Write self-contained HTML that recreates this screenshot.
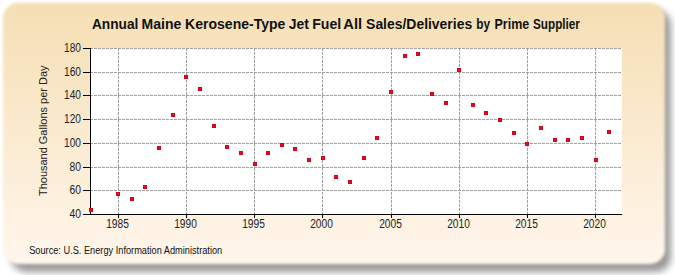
<!DOCTYPE html>
<html><head><meta charset="utf-8"><style>
html,body{margin:0;padding:0;width:675px;height:275px;overflow:hidden;background:#fff}
.shadow{position:absolute;left:11px;top:10px;width:660px;height:262px;border-radius:15px;background:rgba(0,0,0,0.4);filter:blur(3.5px)}
.panel{position:absolute;left:3px;top:3px;width:662px;height:261px;border-radius:15px;filter:blur(1.5px);
background:linear-gradient(to bottom,#f5deb3 0%,#fff6ec 100%)}
svg{position:absolute;left:0;top:0}
.t{font-family:"Liberation Sans",sans-serif;font-size:12px;fill:#222}
.title{font-family:"Liberation Sans",sans-serif;font-size:14px;font-weight:bold;fill:#111}
.src{font-family:"Liberation Sans",sans-serif;font-size:10px;fill:#111}
.yl{font-family:"Liberation Sans",sans-serif;font-size:11px;fill:#222}
</style></head><body>
<div class="shadow"></div><div class="panel"></div>
<svg width="675" height="275" viewBox="0 0 675 275">
<defs><radialGradient id="mg" cx="50%" cy="50%" r="70%"><stop offset="0" stop-color="#f2102a"/><stop offset="1" stop-color="#b8000f"/></radialGradient></defs>
<rect x="90" y="48" width="532" height="166" fill="#fff"/>
<line x1="90" y1="48.5" x2="622" y2="48.5" stroke="#a0a0a0" stroke-dasharray="3,1"/>
<line x1="83" y1="48.5" x2="90" y2="48.5" stroke="#000"/>
<text x="64.1" y="52.0" textLength="16.9" lengthAdjust="spacingAndGlyphs" class="t">180</text>
<line x1="90" y1="72.5" x2="622" y2="72.5" stroke="#a0a0a0" stroke-dasharray="3,1"/>
<line x1="83" y1="72.5" x2="90" y2="72.5" stroke="#000"/>
<text x="64.1" y="76.0" textLength="16.9" lengthAdjust="spacingAndGlyphs" class="t">160</text>
<line x1="90" y1="95.5" x2="622" y2="95.5" stroke="#a0a0a0" stroke-dasharray="3,1"/>
<line x1="83" y1="95.5" x2="90" y2="95.5" stroke="#000"/>
<text x="64.1" y="99.0" textLength="16.9" lengthAdjust="spacingAndGlyphs" class="t">140</text>
<line x1="90" y1="119.5" x2="622" y2="119.5" stroke="#a0a0a0" stroke-dasharray="3,1"/>
<line x1="83" y1="119.5" x2="90" y2="119.5" stroke="#000"/>
<text x="64.1" y="123.0" textLength="16.9" lengthAdjust="spacingAndGlyphs" class="t">120</text>
<line x1="90" y1="143.5" x2="622" y2="143.5" stroke="#a0a0a0" stroke-dasharray="3,1"/>
<line x1="83" y1="143.5" x2="90" y2="143.5" stroke="#000"/>
<text x="64.1" y="147.0" textLength="16.9" lengthAdjust="spacingAndGlyphs" class="t">100</text>
<line x1="90" y1="167.5" x2="622" y2="167.5" stroke="#a0a0a0" stroke-dasharray="3,1"/>
<line x1="83" y1="167.5" x2="90" y2="167.5" stroke="#000"/>
<text x="69.5" y="171.0" textLength="11.5" lengthAdjust="spacingAndGlyphs" class="t">80</text>
<line x1="90" y1="190.5" x2="622" y2="190.5" stroke="#a0a0a0" stroke-dasharray="3,1"/>
<line x1="83" y1="190.5" x2="90" y2="190.5" stroke="#000"/>
<text x="69.5" y="194.0" textLength="11.5" lengthAdjust="spacingAndGlyphs" class="t">60</text>
<line x1="83" y1="214.5" x2="90" y2="214.5" stroke="#000"/>
<text x="69.5" y="218.0" textLength="11.5" lengthAdjust="spacingAndGlyphs" class="t">40</text>
<line x1="118.5" y1="48" x2="118.5" y2="214" stroke="#a0a0a0" stroke-dasharray="3,1"/>
<line x1="118.5" y1="214" x2="118.5" y2="218" stroke="#000"/>
<text x="106.2" y="228" textLength="22.7" lengthAdjust="spacingAndGlyphs" class="t">1985</text>
<line x1="186.5" y1="48" x2="186.5" y2="214" stroke="#a0a0a0" stroke-dasharray="3,1"/>
<line x1="186.5" y1="214" x2="186.5" y2="218" stroke="#000"/>
<text x="174.2" y="228" textLength="22.7" lengthAdjust="spacingAndGlyphs" class="t">1990</text>
<line x1="254.5" y1="48" x2="254.5" y2="214" stroke="#a0a0a0" stroke-dasharray="3,1"/>
<line x1="254.5" y1="214" x2="254.5" y2="218" stroke="#000"/>
<text x="242.2" y="228" textLength="22.7" lengthAdjust="spacingAndGlyphs" class="t">1995</text>
<line x1="322.5" y1="48" x2="322.5" y2="214" stroke="#a0a0a0" stroke-dasharray="3,1"/>
<line x1="322.5" y1="214" x2="322.5" y2="218" stroke="#000"/>
<text x="310.2" y="228" textLength="22.7" lengthAdjust="spacingAndGlyphs" class="t">2000</text>
<line x1="391.5" y1="48" x2="391.5" y2="214" stroke="#a0a0a0" stroke-dasharray="3,1"/>
<line x1="391.5" y1="214" x2="391.5" y2="218" stroke="#000"/>
<text x="379.2" y="228" textLength="22.7" lengthAdjust="spacingAndGlyphs" class="t">2005</text>
<line x1="459.5" y1="48" x2="459.5" y2="214" stroke="#a0a0a0" stroke-dasharray="3,1"/>
<line x1="459.5" y1="214" x2="459.5" y2="218" stroke="#000"/>
<text x="447.2" y="228" textLength="22.7" lengthAdjust="spacingAndGlyphs" class="t">2010</text>
<line x1="527.5" y1="48" x2="527.5" y2="214" stroke="#a0a0a0" stroke-dasharray="3,1"/>
<line x1="527.5" y1="214" x2="527.5" y2="218" stroke="#000"/>
<text x="515.2" y="228" textLength="22.7" lengthAdjust="spacingAndGlyphs" class="t">2015</text>
<line x1="595.5" y1="48" x2="595.5" y2="214" stroke="#a0a0a0" stroke-dasharray="3,1"/>
<line x1="595.5" y1="214" x2="595.5" y2="218" stroke="#000"/>
<text x="583.2" y="228" textLength="22.7" lengthAdjust="spacingAndGlyphs" class="t">2020</text>
<line x1="90.5" y1="48" x2="90.5" y2="215" stroke="#000"/>
<line x1="90" y1="214.5" x2="622" y2="214.5" stroke="#000"/>
<rect x="89" y="208" width="4" height="4" fill="url(#mg)"/>
<rect x="116" y="192" width="4" height="4" fill="url(#mg)"/>
<rect x="130" y="197" width="4" height="4" fill="url(#mg)"/>
<rect x="143" y="185" width="4" height="4" fill="url(#mg)"/>
<rect x="157" y="146" width="4" height="4" fill="url(#mg)"/>
<rect x="171" y="113" width="4" height="4" fill="url(#mg)"/>
<rect x="184" y="75" width="4" height="4" fill="url(#mg)"/>
<rect x="198" y="87" width="4" height="4" fill="url(#mg)"/>
<rect x="212" y="124" width="4" height="4" fill="url(#mg)"/>
<rect x="225" y="145" width="4" height="4" fill="url(#mg)"/>
<rect x="239" y="151" width="4" height="4" fill="url(#mg)"/>
<rect x="253" y="162" width="4" height="4" fill="url(#mg)"/>
<rect x="266" y="151" width="4" height="4" fill="url(#mg)"/>
<rect x="280" y="143" width="4" height="4" fill="url(#mg)"/>
<rect x="293" y="147" width="4" height="4" fill="url(#mg)"/>
<rect x="307" y="158" width="4" height="4" fill="url(#mg)"/>
<rect x="321" y="156" width="4" height="4" fill="url(#mg)"/>
<rect x="334" y="175" width="4" height="4" fill="url(#mg)"/>
<rect x="348" y="180" width="4" height="4" fill="url(#mg)"/>
<rect x="362" y="156" width="4" height="4" fill="url(#mg)"/>
<rect x="375" y="136" width="4" height="4" fill="url(#mg)"/>
<rect x="389" y="90" width="4" height="4" fill="url(#mg)"/>
<rect x="403" y="54" width="4" height="4" fill="url(#mg)"/>
<rect x="416" y="52" width="4" height="4" fill="url(#mg)"/>
<rect x="430" y="92" width="4" height="4" fill="url(#mg)"/>
<rect x="444" y="101" width="4" height="4" fill="url(#mg)"/>
<rect x="457" y="68" width="4" height="4" fill="url(#mg)"/>
<rect x="471" y="103" width="4" height="4" fill="url(#mg)"/>
<rect x="484" y="111" width="4" height="4" fill="url(#mg)"/>
<rect x="498" y="118" width="4" height="4" fill="url(#mg)"/>
<rect x="512" y="131" width="4" height="4" fill="url(#mg)"/>
<rect x="525" y="142" width="4" height="4" fill="url(#mg)"/>
<rect x="539" y="126" width="4" height="4" fill="url(#mg)"/>
<rect x="553" y="138" width="4" height="4" fill="url(#mg)"/>
<rect x="566" y="138" width="4" height="4" fill="url(#mg)"/>
<rect x="580" y="136" width="4" height="4" fill="url(#mg)"/>
<rect x="594" y="158" width="4" height="4" fill="url(#mg)"/>
<rect x="607" y="130" width="4" height="4" fill="url(#mg)"/>
<text x="91.91" y="28.5" textLength="46.41" lengthAdjust="spacingAndGlyphs" class="title">Annual</text>
<text x="141.6" y="28.5" textLength="39.78" lengthAdjust="spacingAndGlyphs" class="title">Maine</text>
<text x="185.1" y="28.5" textLength="100.31" lengthAdjust="spacingAndGlyphs" class="title">Kerosene-Type</text>
<text x="288.7" y="28.5" textLength="20.13" lengthAdjust="spacingAndGlyphs" class="title">Jet</text>
<text x="312.19" y="28.5" textLength="28.99" lengthAdjust="spacingAndGlyphs" class="title">Fuel</text>
<text x="343.38" y="28.5" textLength="18.76" lengthAdjust="spacingAndGlyphs" class="title">All</text>
<text x="366.1" y="28.5" textLength="106.03" lengthAdjust="spacingAndGlyphs" class="title">Sales/Deliveries</text>
<text x="476.34" y="28.5" textLength="13.78" lengthAdjust="spacingAndGlyphs" class="title">by</text>
<text x="494.5" y="28.5" textLength="34.66" lengthAdjust="spacingAndGlyphs" class="title">Prime</text>
<text x="533.07" y="28.5" textLength="46.81" lengthAdjust="spacingAndGlyphs" class="title">Supplier</text>
<text transform="translate(47,196) rotate(-90)" class="yl" textLength="130.5" lengthAdjust="spacingAndGlyphs">Thousand Gallons per Day</text>
<text x="29.2" y="253.5" class="src" textLength="193" lengthAdjust="spacingAndGlyphs">Source: U.S. Energy Information Administration</text>
</svg>
</body></html>
